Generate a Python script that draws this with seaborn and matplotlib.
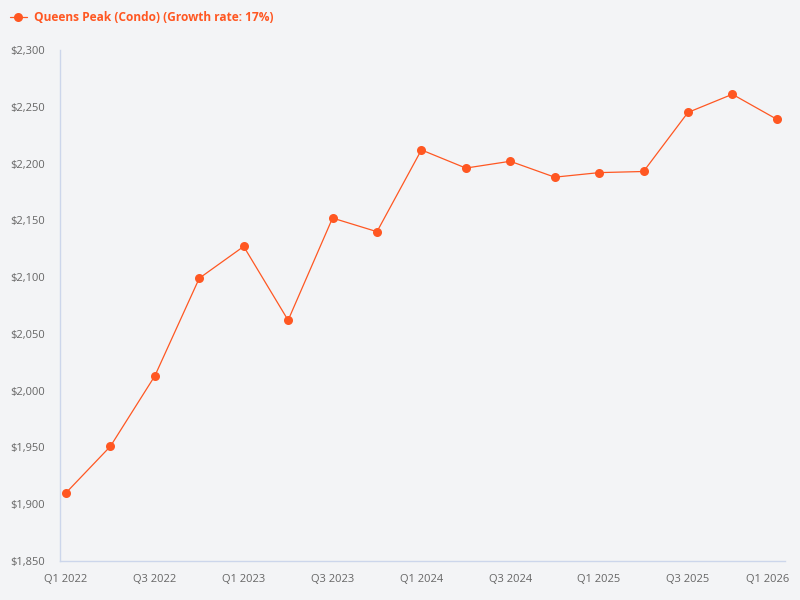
import matplotlib
matplotlib.use("Agg")
import matplotlib.pyplot as plt
import matplotlib.transforms as mtransforms
import seaborn as sns
import pandas as pd
import numpy as np

quarters = ["Q1 2022", "Q2 2022", "Q3 2022", "Q4 2022",
            "Q1 2023", "Q2 2023", "Q3 2023", "Q4 2023",
            "Q1 2024", "Q2 2024", "Q3 2024", "Q4 2024",
            "Q1 2025", "Q2 2025", "Q3 2025", "Q4 2025",
            "Q1 2026"]
prices = [1910, 1951, 2013, 2099, 2127, 2062, 2152, 2140,
          2212, 2196, 2202, 2188, 2192, 2193, 2245, 2261, 2239]
series_name = "Queens Peak (Condo) (Growth rate: 17%)"
y_ticks = [1850, 1900, 1950, 2000, 2050, 2100, 2150, 2200, 2250, 2300]

sns.set_theme(style="white")
plt.rcParams['font.family'] = ['Open Sans', 'DejaVu Sans']

bg = "#f3f4f6"
color = "#ff5722"

df = pd.DataFrame({"idx": np.arange(len(quarters)), "price": prices, "quarter": quarters})

fig = plt.figure(figsize=(8, 6), dpi=100, facecolor=bg)
ax = fig.add_axes([0.075, 0.065, 0.906, 0.8517])
ax.set_facecolor(bg)

sns.lineplot(data=df, x="idx", y="price", ax=ax, color=color, linewidth=0.9,
             marker="o", markersize=6.5, markeredgewidth=0, label=series_name)

ax.set_xlim(-0.135, 16.18)
ax.set_ylim(1850, 2300)
ax.set_yticks(y_ticks)
ax.set_yticklabels([f"${v:,}" for v in y_ticks])
xt = list(range(0, len(quarters), 2))
ax.set_xticks(xt)
ax.set_xticklabels([quarters[i] for i in xt])
ax.tick_params(axis="x", labelsize=8, colors="#666666", length=0, pad=9)
ax.tick_params(axis="y", labelsize=8, colors="#666666", length=0, pad=11)
ax.set_xlabel("")
ax.set_ylabel("")

# keep the last x label inside the figure
last = ax.get_xticklabels()[-1]
last.set_transform(last.get_transform() + mtransforms.ScaledTranslation(-9 / 100, 0, fig.dpi_scale_trans))

for s in ["top", "right"]:
    ax.spines[s].set_visible(False)
for s in ["left", "bottom"]:
    ax.spines[s].set_color("#ccd6eb")
    ax.spines[s].set_linewidth(1)
ax.grid(False)

handles, labels = ax.get_legend_handles_labels()
ax.get_legend().remove()
leg = fig.legend(handles, labels, loc="upper left", bbox_to_anchor=(0.008, 0.988),
                 bbox_transform=fig.transFigure, frameon=False,
                 handlelength=1.4, handletextpad=0.6, borderaxespad=0, borderpad=0.3,
                 prop={"weight": "bold", "size": 8.6})
for t in leg.get_texts():
    t.set_color(color)

fig.savefig("out.png", dpi=100, facecolor=bg)
